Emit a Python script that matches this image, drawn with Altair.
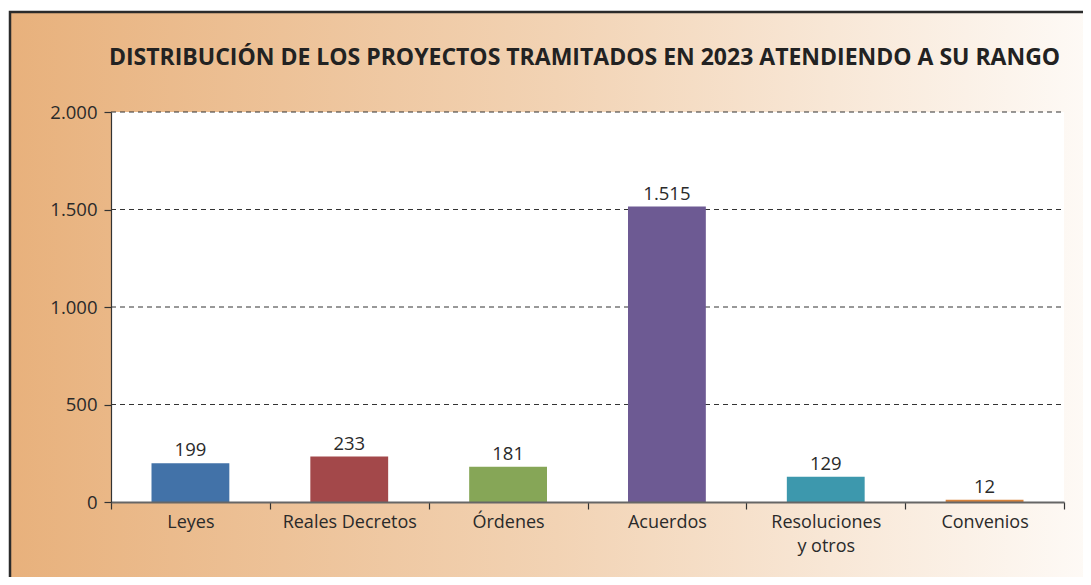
import altair as alt
import pandas as pd

categorias = ["Leyes", "Reales Decretos", "Órdenes", "Acuerdos", "Resoluciones y otros", "Convenios"]
valores = [199, 233, 181, 1515, 129, 12]
colores = ["#4272a8", "#a3484a", "#86a657", "#6d5a93", "#3d98ad", "#d7833c"]
y_ticks = [0, 500, 1000, 1500, 2000]
grid_vals = [500, 1000, 1500, 2000]
titulo = "DISTRIBUCIÓN DE LOS PROYECTOS TRAMITADOS EN 2023 ATENDIENDO A SU RANGO"

W, H = 953, 390
FONT = "Open Sans"

df = pd.DataFrame({"categoria": categorias, "valor": valores})
grid_df = pd.DataFrame({"valor": grid_vals})
one = alt.Data(values=[{"a": 1}])

yscale = alt.Scale(domain=[0, 2000])
xscale = alt.Scale(paddingInner=0, paddingOuter=0)

yaxis = alt.Axis(
    values=y_ticks, grid=False, domainColor="#333333", domainWidth=1.2,
    tickColor="#333333", tickSize=7, tickWidth=1.2, labelFont=FONT, labelFontSize=18.5,
    labelColor="#2a2a2a", labelPadding=7, zindex=1,
    labelExpr="replace(format(datum.value, ','), ',', '.')",
)

bg = alt.Chart(one).mark_rect(
    fill={
        "gradient": "linear",
        "x1": 0, "x2": 1, "y1": 0, "y2": 0,
        "stops": [
            {"offset": 0, "color": "#e8b17c"},
            {"offset": 0.5, "color": "#f2d3b4"},
            {"offset": 1, "color": "#fefbf8"},
        ],
    },
    stroke="#2b2b2b",
    strokeWidth=2.5,
).encode(
    x=alt.value(-101), x2=alt.value(W + 40),
    y=alt.value(-100), y2=alt.value(H + 120),
)

plot_bg = alt.Chart(one).mark_rect(fill="white").encode(
    x=alt.value(0), x2=alt.value(W), y=alt.value(0), y2=alt.value(H)
)

grid = alt.Chart(grid_df).mark_rule(color="#333333", strokeDash=[5, 4], strokeWidth=1).encode(
    y=alt.Y("valor:Q", scale=yscale, axis=yaxis, title=None),
    x=alt.value(0), x2=alt.value(W),
)

bars = alt.Chart(df).mark_bar(width=alt.RelativeBandSize(0.49)).encode(
    x=alt.X(
        "categoria:N", sort=categorias, scale=xscale, title=None,
        axis=alt.Axis(
            labelAngle=0, tickBand="extent", domainColor="#666666", domainWidth=2,
            tickColor="#333333", tickSize=7, tickWidth=1.2, labelFont=FONT, labelFontSize=18,
            labelColor="#2a2a2a", labelPadding=4, zindex=1, labelLineHeight=24,
            labelExpr="datum.value == 'Resoluciones y otros' ? ['Resoluciones', 'y otros'] : datum.value",
        ),
    ),
    y=alt.Y("valor:Q", scale=yscale, title=None, axis=yaxis),
    color=alt.Color("categoria:N", scale=alt.Scale(domain=categorias, range=colores), legend=None),
)

text = alt.Chart(df).transform_calculate(
    etiqueta="replace(format(datum.valor, ','), ',', '.')"
).mark_text(font=FONT, fontSize=18.5, color="#2a2a2a", baseline="alphabetic", dy=-7).encode(
    x=alt.X("categoria:N", sort=categorias, scale=xscale),
    y=alt.Y("valor:Q", scale=yscale),
    text="etiqueta:N",
)

title = alt.Chart(one).mark_text(
    text=titulo, font=FONT, fontSize=23, fontWeight="bold", color="#222222",
    align="center", baseline="alphabetic",
).encode(x=alt.value(W / 2 - 3), y=alt.value(-47))

chart = alt.layer(bg, plot_bg, grid, bars, text, title).properties(
    width=W, height=H,
    autosize=alt.AutoSizeParams(type="none"),
    padding={"left": 103, "top": 104, "right": 19, "bottom": 75},
).configure_view(stroke=None).configure(background="white")

chart.save("out.html", embed_options={"renderer": "svg", "actions": False})
